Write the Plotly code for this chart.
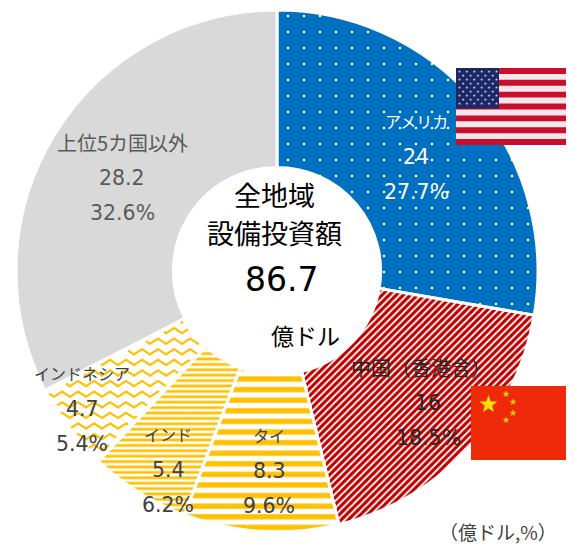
import math
import plotly.graph_objects as go

W, H = 574, 547
OFF = 8  # page body margin
names = ["アメリカ", "中国（香港含）", "タイ", "インド", "インドネシア", "上位5カ国以外"]
values = [24, 16, 8.3, 5.4, 4.7, 28.2]
shares = ["27.7%", "18.5%", "9.6%", "6.2%", "5.4%", "32.6%"]
colors_fg = ["#FFFFFF", "#FFFFFF", "#FFFFFF", "#FFFFFF", "#FFFFFF", "#D9D9D9"]
colors_bg = ["#0070C0", "#C00000", "#FFC000", "#FFC000", "#FFFFFF", "#D9D9D9"]
pat_shape = [".", "/", "-", "-", "", ""]
pat_size = [16, 5, 10.6, 5.4, 8, 8]
pat_solid = [0.022, 0.36, 0.5, 0.5, 0.0, 0.0]
label_colors = ["#FFFFFF", "#262626", "#404040", "#404040", "#404040", "#595959"]
label_sizes = [16, 20, 16, 16, 16, 20]
label_xy = [(416, 121), (421, 367), (269, 435), (168, 434), (82, 373), (122, 142)]
FONT = "DejaVu Sans, 'Noto Sans CJK JP', sans-serif"
JP = "'Noto Sans CJK JP', sans-serif"

px = lambda v: (v - OFF) / (W - OFF)
py = lambda v: 1 - (v - OFF) / (H - OFF)

fig = go.Figure(go.Pie(
    values=values, labels=names, hole=0.397, sort=False, direction="clockwise", rotation=0,
    textinfo="none", showlegend=False, hoverinfo="label+value",
    domain=dict(x=[px(16), px(538)], y=[py(532), py(10)]),
    marker=dict(
        colors=colors_bg,
        line=dict(color="#FFFFFF", width=3),
        pattern=dict(shape=pat_shape, size=pat_size, solidity=pat_solid,
                     bgcolor=colors_bg, fgcolor=colors_fg, fgopacity=1, fillmode="replace"),
    ),
))

anns = []
def note(x, y, text, size, color="#404040", family=FONT):
    anns.append(dict(x=px(x), y=py(y), xref="paper", yref="paper", text=text, showarrow=False,
                     xanchor="center", yanchor="middle", font=dict(size=size, color=color, family=family)))

for i, n in enumerate(names):
    x, y = label_xy[i]
    dx = 7 if i == 1 else 0
    note(x, y, n, label_sizes[i], label_colors[i], JP)
    note(x + dx, y + 36, str(values[i]), 20.5, label_colors[i])
    note(x + dx, y + 71, shares[i], 20.5, label_colors[i])

note(274, 195, "全地域", 27, "#000000", JP)
note(274, 232, "設備投資額", 27, "#000000", JP)
note(281, 279, "86.7", 33, "#000000")
note(305, 335, "億ドル", 23, "#000000", JP)
note(498, 531, "（億ドル,%）", 19, "#404040", JP)

shapes = []
def rect(x0, y0, x1, y1, color):
    shapes.append(dict(type="rect", xref="paper", yref="paper", x0=px(x0), x1=px(x1), y0=py(y0), y1=py(y1),
                       fillcolor=color, line_width=0, layer="above"))
def star(cx, cy, r, color):
    pts = []
    for k in range(10):
        a = -math.pi / 2 + k * math.pi / 5
        rr = r if k % 2 == 0 else r * 0.4
        pts.append((cx + rr * math.cos(a), cy + rr * math.sin(a)))
    d = "M" + " L".join(f"{px(a):.5f},{py(b):.5f}" for a, b in pts) + " Z"
    shapes.append(dict(type="path", xref="paper", yref="paper", path=d, fillcolor=color, line_width=0, layer="above"))

# Wavy hatch for the Indonesia slice (Plotly pie patterns have no wave shape):
# zigzag strokes kept only inside that slice's own angular range.
CX, CY, R_OUT, R_IN = 277, 271, 259, 106
total = sum(values)
a0 = sum(values[:4]) / total * 2 * math.pi
a1 = sum(values[:5]) / total * 2 * math.pi
def inside(x, y):
    dx, dy = x - CX, y - CY
    r = math.hypot(dx, dy)
    ang = math.atan2(dx, -dy) % (2 * math.pi)
    return R_IN < r < R_OUT and a0 + 0.012 < ang < a1 - 0.012
sub = []
row = 320.0
while row < 460:
    pen = False
    x = 30.0
    while x < 230:
        phase = ((x - 30) % 16) / 16
        tri = 4 * phase - 1 if phase < 0.5 else 3 - 4 * phase
        y = row + 2.6 * tri
        if inside(x, y):
            sub.append(("L" if pen else "M") + f"{px(x):.5f},{py(y):.5f}")
            pen = True
        else:
            pen = False
        x += 1.0
    row += 10.6
shapes.append(dict(type="path", xref="paper", yref="paper", path=" ".join(sub),
                   line=dict(color="#FFC000", width=2.2), layer="above"))

# US flag
fx0, fx1, fy0, fy1 = 456, 566, 68, 145
rect(fx0, fy0, fx1, fy1, "#F5E6EC")
h = (fy1 - fy0) / 13
for s in range(0, 13, 2):
    rect(fx0, fy0 + s * h, fx1, fy0 + (s + 1) * h, "#C8102E")
rect(fx0, fy0, 499, fy0 + 7 * h - 1, "#1B2A66")
for r in range(9):
    cols = 6 if r % 2 == 0 else 5
    for c in range(cols):
        star(459.5 + c * 7.4 + (3.7 if r % 2 else 0), 71.5 + r * 4.0, 1.6, "#C9CFE6")

# China flag
rect(471, 386, 574, 460, "#EE2A0B")
star(488.5, 404.5, 9.5, "#FFE000")
for a, b in [(506, 394), (513, 402), (513, 413), (506, 420)]:
    star(a, b, 3.6, "#FFD000")

fig.update_layout(width=W - OFF, height=H - OFF, margin=dict(l=0, r=0, t=0, b=0), paper_bgcolor="#FFFFFF",
                  annotations=anns, shapes=shapes, font=dict(family=FONT))
fig.write_html("out.html")
